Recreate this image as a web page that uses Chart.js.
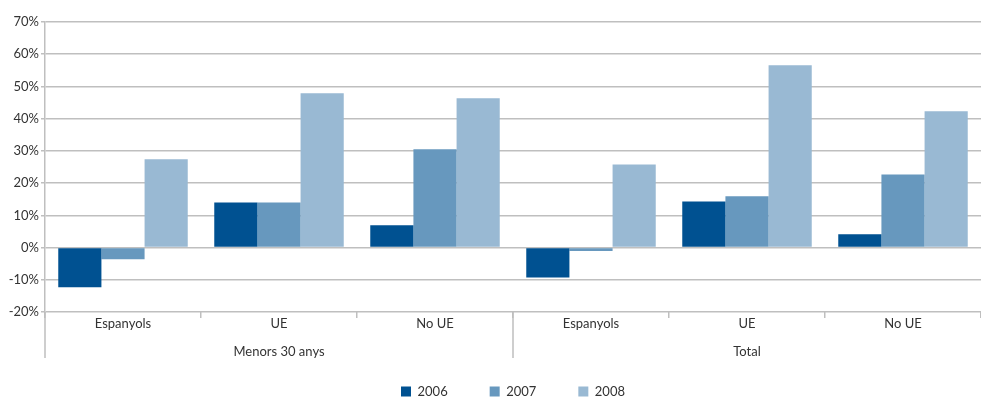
<!DOCTYPE html>
<html>
<head>
<meta charset="utf-8">
<script src="https://cdn.jsdelivr.net/npm/chart.js@4.4.1/dist/chart.umd.min.js"></script>
<style>
  html, body { margin: 0; padding: 0; background: #fff; }
  #wrap { width: 981px; height: 397px; }
</style>
</head>
<body>
<div id="wrap"><canvas id="chart"></canvas></div>
<script>
// data
const categories = ["Espanyols", "UE", "No UE", "Espanyols", "UE", "No UE"];
const groups = ["Menors 30 anys", "Total"];
const years = ["2006", "2007", "2008"];
const values2006 = [-12.3, 14.0, 6.9, -9.3, 14.3, 4.1];
const values2007 = [-3.6, 14.0, 30.5, -1.1, 15.9, 22.7];
const values2008 = [27.4, 47.9, 46.3, 25.8, 56.6, 42.3];
const yTicks = [-20, -10, 0, 10, 20, 30, 40, 50, 60, 70];

const colors = ["#005191", "#6798be", "#99b9d3"];
const lineColor = "#bfbfbf";
const textColor = "#333333";
const font = { family: "Lato, 'Open Sans', sans-serif", size: 13 };

// long separator between the two groups + the y-axis line running down past the labels
const groupLines = {
  id: "groupLines",
  afterLayout(chart) {
    // legend padding is big for the wide gaps, pull its box up so the row sits near the bottom
    chart.legend.top = chart.legend.bottom - 54;
  },
  afterDraw(chart) {
    const { ctx } = chart;
    const x = chart.scales.x;
    const y = chart.scales.y;
    const bottom = y.bottom + 46;
    const mid = (x.getPixelForValue(2) + x.getPixelForValue(3)) / 2;
    ctx.save();
    ctx.strokeStyle = lineColor;
    ctx.lineWidth = 1.5;
    ctx.beginPath();
    ctx.moveTo(mid, y.bottom);
    ctx.lineTo(mid, bottom);
    ctx.moveTo(chart.chartArea.left, y.bottom);
    ctx.lineTo(chart.chartArea.left, bottom);
    ctx.stroke();
    ctx.restore();
  }
};

new Chart(document.getElementById("chart"), {
  type: "bar",
  data: {
    labels: categories,
    datasets: [
      { label: years[0], data: values2006, backgroundColor: colors[0] },
      { label: years[1], data: values2007, backgroundColor: colors[1] },
      { label: years[2], data: values2008, backgroundColor: colors[2] }
    ]
  },
  options: {
    responsive: true,
    maintainAspectRatio: false,
    animation: false,
    datasets: { bar: { categoryPercentage: 0.83, barPercentage: 1.0 } },
    layout: { padding: { top: 22, right: 0, left: 0, bottom: 0 } },
    scales: {
      y: {
        min: -20,
        max: 70,
        afterBuildTicks: (s) => { s.ticks = yTicks.map((v) => ({ value: v })); },
        afterFit: (s) => { s.width = 45; },
        ticks: {
          color: textColor,
          font: font,
          padding: 2,
          callback: (v) => v + "%"
        },
        grid: { color: lineColor, lineWidth: 1.5, tickLength: 4 },
        border: { color: lineColor, width: 1.5 }
      },
      x: {
        afterFit: (s) => { s.height = 24; },
        ticks: { color: textColor, font: font, padding: -2 },
        grid: { offset: true, drawOnChartArea: false, color: lineColor, lineWidth: 1.5, tickLength: 6 },
        border: { display: false }
      },
      x2: {
        type: "category",
        labels: groups,
        position: "bottom",
        afterFit: (s) => { s.height = 24; },
        ticks: { color: textColor, font: font, padding: 0 },
        grid: { display: false },
        border: { display: false }
      }
    },
    plugins: {
      legend: {
        position: "bottom",
        fullSize: false,
        maxHeight: 37,
        labels: {
          color: textColor,
          font: font,
          boxWidth: 10,
          boxHeight: 10,
          padding: 42
        }
      },
      tooltip: { enabled: false }
    }
  },
  plugins: [groupLines]
});
</script>
</body>
</html>
